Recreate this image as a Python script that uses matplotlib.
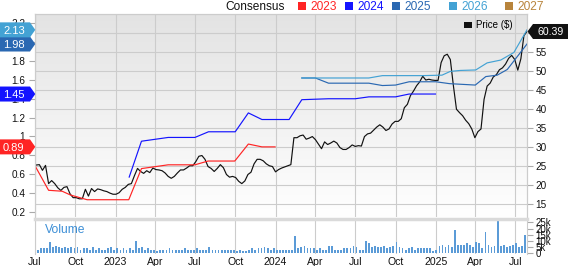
"""
Price vs consensus EPS chart with weekly volume panel.
"""

import matplotlib
matplotlib.use("Agg")
import matplotlib.pyplot as plt
import matplotlib.dates as mdates
import matplotlib.ticker as mticker
import numpy as np
import pandas as pd
from matplotlib.colors import LinearSegmentedColormap
from matplotlib.patches import Patch, Polygon, Rectangle
from matplotlib.transforms import IdentityTransform

plt.rcParams["font.family"] = ["Liberation Sans", "DejaVu Sans"]

W, H = 568, 266

# weekly closing price, starting 2022-07-04
price_start = "2022-07-04"
price = [
    25.2, 25.3, 23.8, 25.1, 20.3, 21.1, 20.3, 19.2, 18.5, 19.3,
    19.5, 17.6, 16.6, 16.6, 16.3, 16.3, 18.8, 17.0, 19.0, 18.2,
    18.9, 18.7, 18.4, 18.2, 17.8, 17.5, 17.5, 17.9, 18.8, 19.3,
    20.1, 20.3, 22.4, 24.3, 23.5, 23.0, 23.7, 23.2, 24.4, 24.0,
    23.9, 23.7, 23.1, 22.2, 21.7, 22.2, 23.1, 23.9, 23.9, 24.4,
    25.0, 25.0, 26.1, 27.5, 27.7, 26.7, 24.8, 24.3, 23.5, 24.3,
    25.3, 24.5, 22.7, 22.0, 22.2, 21.9, 20.9, 20.3, 21.0, 22.7,
    23.3, 25.5, 26.7, 26.7, 26.3, 25.5, 25.0, 24.8, 23.4, 24.0,
    24.4, 24.7, 25.0, 25.3, 32.4, 32.4, 32.9, 33.1, 32.0, 32.3,
    32.7, 31.9, 30.7, 29.5, 31.3, 30.6, 31.0, 31.5, 31.0, 29.8,
    29.3, 29.3, 29.8, 30.5, 30.1, 30.3, 30.2, 32.7, 33.4, 33.6,
    34.4, 35.2, 35.8, 35.2, 34.3, 34.7, 36.0, 36.7, 36.7, 37.4,
    40.3, 41.2, 43.5, 44.7, 46.1, 47.1, 48.6, 47.6, 47.8, 47.6,
    47.5, 47.5, 52.2, 54.0, 54.4, 53.0, 46.1, 39.9, 39.0, 38.2,
    37.0, 36.1, 34.7, 32.4, 34.0, 34.7, 42.5, 46.0, 46.8, 48.4,
    49.0, 50.3, 50.8, 51.8, 53.3, 54.1, 53.0, 50.2, 53.2, 59.3,
    60.39,
]

# weekly volume in thousands, starting 2022-07-04
volume_start = "2022-07-04"
volume_k = [
    3, 4, 4, 4, 9, 5, 6, 5, 4, 5, 4, 5, 4,
    5, 3, 4, 4, 3, 5, 3, 4, 3, 3, 4, 5, 3,
    4, 3, 4, 3, 4, 3, 10, 4, 5, 3, 4, 3, 3,
    2, 3, 3, 3, 4, 3, 3, 3, 3, 4, 3, 3, 3,
    4, 3, 3, 3, 5, 3, 3, 3, 3, 3, 3, 3, 3,
    2, 3, 2, 2, 3, 4, 3, 4, 4, 5, 4, 3, 4,
    3, 3, 3, 3, 3, 3, 14, 4, 5, 6, 4, 4, 4,
    3, 4, 3, 3, 6, 6, 3, 3, 3, 4, 4, 4, 6,
    5, 3, 3, 10, 8, 5, 6, 5, 5, 6, 4, 5, 6,
    9, 5, 4, 3, 4, 5, 3, 4, 4, 4, 4, 4, 2,
    3, 6, 7, 5, 7, 5, 19, 7, 7, 7, 8, 7, 5,
    9, 8, 4, 17, 7, 5, 6, 26, 6, 7, 5, 6, 7,
    8, 5, 6, 15,
]

# consensus EPS estimates by fiscal year
eps_2023_dates = ["2022-07-01", "2022-08-01", "2022-09-01", "2022-09-20", "2022-10-28",
                  "2023-01-31", "2023-03-01", "2023-05-01", "2023-07-01", "2023-07-31",
                  "2023-09-30", "2023-10-31", "2023-12-01", "2023-12-31"]
eps_2023 = [0.69, 0.43, 0.42, 0.38, 0.33, 0.33, 0.66, 0.70, 0.70, 0.74, 0.74, 0.92, 0.89, 0.89]

eps_2024_dates = ["2023-02-01", "2023-03-01", "2023-05-01", "2023-07-01", "2023-08-01",
                  "2023-10-01", "2023-10-31", "2023-12-01", "2024-02-01", "2024-03-01",
                  "2024-05-01", "2024-07-01", "2024-08-01", "2024-10-01", "2024-11-01",
                  "2024-12-31"]
eps_2024 = [0.57, 0.95, 0.99, 0.99, 1.05, 1.05, 1.25, 1.18, 1.18, 1.39, 1.40, 1.40, 1.42,
            1.42, 1.45, 1.45]

eps_2025_dates = ["2024-03-01", "2024-04-01", "2024-05-01", "2024-08-01", "2024-09-01",
                  "2024-10-01", "2024-11-01", "2025-01-01", "2025-02-01", "2025-04-01",
                  "2025-04-25", "2025-05-21", "2025-06-13", "2025-07-13", "2025-07-28"]
eps_2025 = [1.62, 1.62, 1.565, 1.565, 1.54, 1.545, 1.58, 1.58, 1.56, 1.545, 1.635, 1.65,
            1.71, 1.89, 1.98]

eps_2026_dates = ["2024-03-01", "2024-08-01", "2024-09-01", "2024-12-01", "2025-01-15",
                  "2025-02-03", "2025-02-26", "2025-04-02", "2025-04-28", "2025-05-29",
                  "2025-06-28", "2025-07-28"]
eps_2026 = [1.62, 1.62, 1.645, 1.645, 1.65, 1.69, 1.70, 1.705, 1.78, 1.81, 1.89, 2.13]

legend_years = ["2023", "2024", "2025", "2026", "2027"]
year_colors = ["#ff2424", "#1414ff", "#2a68b2", "#43a2d4", "#b8843c"]
legend_x = [297.5, 344.5, 391.5, 449, 505]   # square left edges (px)

x_start, x_end = "2022-07-01", "2025-07-28"


def box(left, top, right, bottom):
    return [left / W, 1 - bottom / H, (right - left) / W, (bottom - top) / H]


def tag_left(fig, y, text, color):
    pts = [(0, y - 7.5), (30, y - 7.5), (35.3, y), (30, y + 7.5), (0, y + 7.5)]
    fig.add_artist(Polygon(pts, closed=True, facecolor=color, edgecolor="none",
                           transform=IdentityTransform()))
    fig.text(3 / W, y / H, text, color="white", fontsize=8, va="center_baseline", ha="left")


def tag_right(fig, y, text, color):
    pts = [(527.5, y), (533, y - 7.5), (568, y - 7.5), (568, y + 7.5), (533, y + 7.5)]
    fig.add_artist(Polygon(pts, closed=True, facecolor=color, edgecolor="none",
                           transform=IdentityTransform()))
    fig.text(550.5 / W, y / H, text, color="white", fontsize=7.6, va="center_baseline",
             ha="center")


def month_label(x, pos):
    d = mdates.num2date(x)
    return d.strftime("%Y") if d.month == 1 else d.strftime("%b")


def main():
    fig = plt.figure(figsize=(W / 100, H / 100), dpi=100)

    # background gradient behind the price panel
    bg = fig.add_axes(box(35, 14, 527, 217))
    cmap = LinearSegmentedColormap.from_list("bg", ["#ffffff", "#e3e3e3"])
    bg.imshow(np.linspace(1, 0, 256)[:, None], cmap=cmap, aspect="auto",
              extent=[0, 1, 0, 1], vmin=0, vmax=1)
    bg.set_axis_off()
    bg.set_zorder(-1)

    ax = fig.add_axes(box(35, 14, 527, 217))
    ax.patch.set_visible(False)
    ax2 = ax.twinx()
    axv = fig.add_axes(box(35, 219, 527, 254), sharex=ax)

    price_dates = pd.date_range(price_start, periods=len(price), freq="7D")
    ax.plot(price_dates, price, color="#111111", lw=0.85, zorder=3)

    for dates, vals, col in [(eps_2023_dates, eps_2023, year_colors[0]),
                             (eps_2024_dates, eps_2024, year_colors[1]),
                             (eps_2025_dates, eps_2025, year_colors[2]),
                             (eps_2026_dates, eps_2026, year_colors[3])]:
        ax2.plot(pd.to_datetime(dates), vals, color=col, lw=0.85)

    vol_dates = pd.date_range(volume_start, periods=len(volume_k), freq="7D")
    axv.bar(vol_dates + pd.Timedelta(days=3), volume_k, width=4, color="#5b9bd7")

    ax.set_xlim(pd.Timestamp(x_start), pd.Timestamp(x_end))
    ax.set_ylim(11.5, 65)
    ax2.set_ylim(0.147, 2.298)
    axv.set_ylim(-0.56, 27.7)

    # price axis (right)
    ax.yaxis.tick_right()
    ax.set_yticks(np.arange(15, 61, 5))
    ax.grid(True, color="#cccccc", lw=0.8)
    ax.tick_params(axis="x", length=0, labelbottom=False)
    ax.tick_params(axis="y", length=4.3, width=0.8, color="#aaaaaa", pad=1.7,
                   labelsize=7.2, labelcolor="#111111")

    # EPS axis (left)
    ax2.yaxis.tick_left()
    ax2.set_yticks(np.round(np.arange(0.2, 2.21, 0.2), 1))
    ax2.yaxis.set_major_formatter(mticker.FuncFormatter(lambda v, p: f"{v:g}"))
    ax2.tick_params(axis="y", length=4, width=0.8, color="#aaaaaa", pad=3,
                    labelsize=7.2, labelcolor="#111111")

    # volume panel
    axv.xaxis.set_major_locator(mdates.MonthLocator(bymonth=(1, 4, 7, 10)))
    axv.xaxis.set_major_formatter(mticker.FuncFormatter(month_label))
    axv.grid(True, axis="x", color="#cccccc", lw=0.8)
    axv.set_axisbelow(True)
    axv.yaxis.tick_right()
    axv.set_yticks(np.arange(0, 26, 5))
    axv.yaxis.set_major_formatter(mticker.FuncFormatter(lambda v, p: "0" if v == 0 else f"{v:g}k"))
    axv.tick_params(axis="y", length=4.3, width=0.8, color="#aaaaaa", pad=1.7,
                    labelsize=7, labelcolor="#111111")
    axv.tick_params(axis="x", length=0, pad=2, labelsize=7.6, labelcolor="#111111")

    for a in (ax, ax2):
        for s in a.spines.values():
            s.set_color("#cccccc")
            s.set_linewidth(0.8)
        a.spines["bottom"].set_visible(False)
    for name in ("left", "right"):
        axv.spines[name].set_color("#cccccc")
        axv.spines[name].set_linewidth(0.8)
    axv.spines["bottom"].set_visible(False)
    axv.spines["top"].set_color("#dadada")
    axv.spines["top"].set_linewidth(2.5)

    fig.text(45 / W, 1 - 228.3 / H, "Volume", color="#3d8fd6", fontsize=8.7,
             va="center_baseline", ha="left")

    # price legend inside the plot
    ax.legend([Patch(facecolor="#111111")], ["Price ($)"], loc="center left",
              bbox_to_anchor=((464 - 35) / 492, 1 - (25.5 - 14) / 203),
              frameon=False, fontsize=7, borderpad=0, borderaxespad=0,
              handlelength=0.8, handleheight=0.5, handletextpad=0.45)

    # consensus legend on top
    fig.text(225 / W, 1 - 6 / H, "Consensus", fontsize=8.6, color="#111111",
             va="center_baseline", ha="left")
    for x0, year, col in zip(legend_x, legend_years, year_colors):
        fig.add_artist(Rectangle((x0, H - 9.5), 8, 8, facecolor=col, edgecolor="none",
                                 transform=IdentityTransform()))
        fig.text((x0 + 12.5) / W, 1 - 6 / H, year, fontsize=8.6, color=col,
                 va="center_baseline", ha="left")

    # value tags
    def eps_y(v):
        return ax2.transData.transform((0, v))[1]

    tag_left(fig, eps_y(eps_2025[-1]), f"{eps_2025[-1]:.2f}", year_colors[2])
    tag_left(fig, eps_y(eps_2026[-1]), f"{eps_2026[-1]:.2f}", year_colors[3])
    tag_left(fig, eps_y(eps_2024[-1]), f"{eps_2024[-1]:.2f}", year_colors[1])
    tag_left(fig, eps_y(eps_2023[-1]), f"{eps_2023[-1]:.2f}", year_colors[0])
    tag_right(fig, ax.transData.transform((0, price[-1]))[1], f"{price[-1]:.2f}", "#111111")

    fig.savefig("out.png", dpi=100)
    plt.close(fig)


if __name__ == "__main__":
    main()
